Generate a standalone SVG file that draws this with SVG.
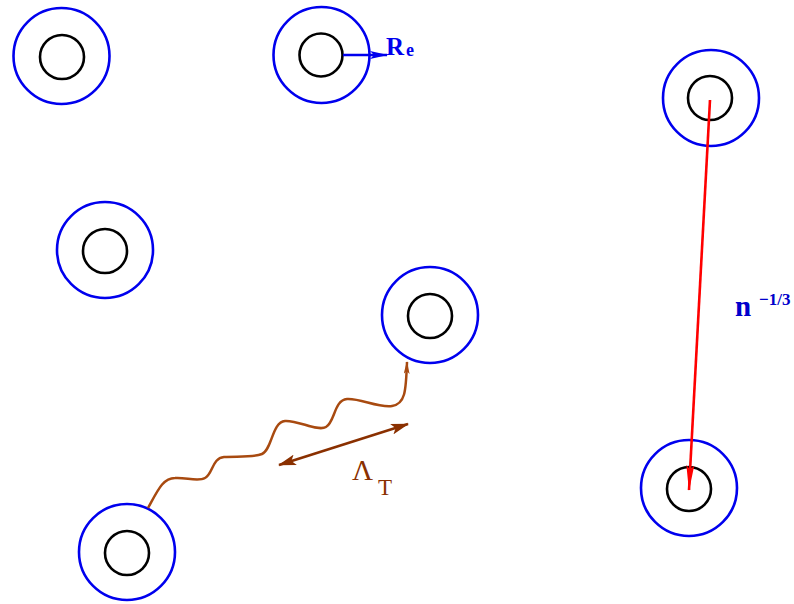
<svg xmlns="http://www.w3.org/2000/svg" width="794" height="604" viewBox="0 0 794 604">
<style>
.o{fill:none;stroke:#0000ee;stroke-width:2.6}
.i{fill:none;stroke:#000;stroke-width:2.6}
.t{font-family:"Liberation Serif","DejaVu Serif",serif}
</style>
<defs>
<marker id="ab" viewBox="0 0 18 8" refX="17" refY="4" markerWidth="18" markerHeight="8" markerUnits="userSpaceOnUse" orient="auto"><path d="M0,0L18,4L0,8L4,4z" fill="#0000ee"/></marker>
<marker id="ar" viewBox="0 0 26 8" refX="25" refY="4" markerWidth="26" markerHeight="8" markerUnits="userSpaceOnUse" orient="auto"><path d="M0,0L26,4L0,8L5,4z" fill="#ff0000"/></marker>
<marker id="aw" viewBox="0 0 13 6" refX="12" refY="3" markerWidth="13" markerHeight="6" markerUnits="userSpaceOnUse" orient="auto"><path d="M0,0L13,3L0,6L3,3z" fill="#a84a10"/></marker>
<marker id="ad" viewBox="0 0 18 11" refX="17" refY="5.5" markerWidth="18" markerHeight="11" markerUnits="userSpaceOnUse" orient="auto-start-reverse"><path d="M0,0L18,5.5L0,11L4,5.5z" fill="#8a3000"/></marker>
</defs>
<g id="p1"><circle class="o" cx="61.5" cy="56" r="48"/><circle class="i" cx="62" cy="57" r="22"/></g>
<g id="p2"><circle class="o" cx="321.5" cy="55" r="48"/><circle class="i" cx="321" cy="55" r="21.5"/></g>
<g id="p3"><circle class="o" cx="105" cy="250" r="48"/><circle class="i" cx="105" cy="251" r="22"/></g>
<g id="p4"><circle class="o" cx="430" cy="315" r="48"/><circle class="i" cx="430" cy="316" r="22"/></g>
<g id="p5"><circle class="o" cx="711" cy="98" r="48"/><circle class="i" cx="710" cy="98" r="22"/></g>
<g id="p6"><circle class="o" cx="689" cy="488" r="48"/><circle class="i" cx="689" cy="489" r="22"/></g>
<g id="p7"><circle class="o" cx="127" cy="552" r="48"/><circle class="i" cx="127" cy="553" r="22"/></g>
<g id="connectors">
<line x1="343" y1="55" x2="387" y2="55" stroke="#0000ee" stroke-width="2.6" marker-end="url(#ab)"/>
<path d="M148,508 C158,490 163,478 175,478 C185,477 198,482 205,478 C213,474 212,458 224,457 C236,456 252,458 262,454 C272,450 272,422 285,421 C298,420 318,432 326,427 C335,422 334,400 347,399 C360,398 378,408 392,406 C405,404 406,392 407,362" fill="none" stroke="#a84a10" stroke-width="2.5" marker-end="url(#aw)"/>
<line x1="279" y1="465" x2="408" y2="424" stroke="#8a3000" stroke-width="2.6" marker-start="url(#ad)" marker-end="url(#ad)"/>
<line x1="710" y1="100" x2="689" y2="490" stroke="#ff0000" stroke-width="2.6" marker-end="url(#ar)"/>
</g>
<g id="labels">
<text class="t" x="386" y="55" font-size="25" font-weight="bold" fill="#0000ee">R<tspan font-size="18" dx="2" dy="1">e</tspan></text>
<text class="t" x="352" y="480" font-size="29" fill="#8a3000">Λ</text>
<text class="t" x="378" y="495" font-size="23" fill="#8a3000">T</text>
<text class="t" x="735" y="316" font-size="29" font-weight="bold" fill="#0000cc">n</text>
<text class="t" x="759" y="305" font-size="17" font-weight="bold" fill="#0000cc">−1/3</text>
</g>
</svg>
